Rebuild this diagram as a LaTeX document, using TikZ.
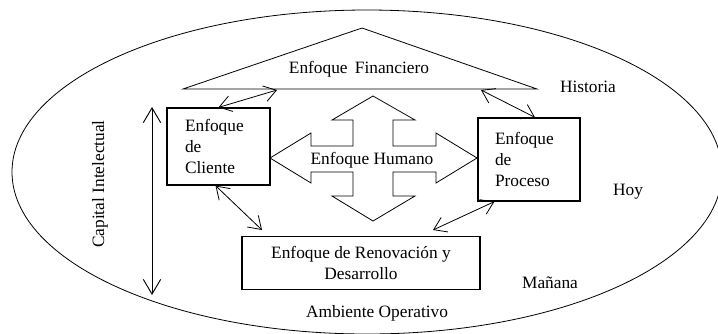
\documentclass[tikz,border=0pt]{standalone}
\usepackage{fontspec}
\setmainfont{Liberation Serif}
\usetikzlibrary{arrows.meta}
\begin{document}
\begin{tikzpicture}[x=0.75pt,y=-0.75pt,
  font=\fontsize{13}{15.5}\selectfont,
  thinline/.style={line width=0.6pt},
  boxnode/.style={draw,line width=0.9pt,inner ysep=0pt},
  lbl/.style={inner sep=0pt},
  arr/.style={line width=0.6pt,{Straight Barb[length=9pt,width=12pt]}-{Straight Barb[length=9pt,width=12pt]}},
  bigarr/.style={line width=0.7pt,{Straight Barb[length=11pt,width=13pt]}-{Straight Barb[length=11pt,width=13pt]}}]
\clip (0,0) rectangle (718,333);
\fill[white] (0,0) rectangle (718,333);
% outer ellipse
\draw[thinline] (367,172) ellipse [x radius=266.25pt, y radius=121.5pt];
% financial triangle
\draw[thinline] (362,28) -- (537,89) -- (183,89) -- cycle;
\node[lbl] (fin) at (359,69) {Enfoque\, Financiero};
\coordinate (fA) at (277,90);
\coordinate (fB) at (481,90);
% human cross
\draw[thinline] (373,96) -- (415,120) -- (393,120) -- (393,146) -- (436,146) -- (436,133)
  -- (477,158) -- (436,183) -- (436,172) -- (393,172) -- (393,196) -- (415,196)
  -- (373,221) -- (332,196) -- (353,196) -- (353,172) -- (311,172) -- (311,183)
  -- (270,158) -- (311,133) -- (311,146) -- (353,146) -- (353,120) -- (332,120) -- cycle;
\node[lbl] (hum) at (372,160) {Enfoque Humano};
% boxes
\node[boxnode,inner xsep=13.5pt,text width=50.25pt,align=left,minimum height=57.75pt]
  (cli) at (218.5,146.5) {Enfoque\\de\\Cliente};
\node[boxnode,inner xsep=12.75pt,text width=51pt,align=left,minimum height=62.25pt]
  (pro) at (529,159.5) {Enfoque\\de\\Proceso};
\node[boxnode,minimum width=178.5pt,minimum height=39.75pt,align=center]
  (ren) at (361,263) {Enfoque de Renovación y\\Desarrollo};
\coordinate (rA) at (262,230);
\coordinate (rB) at (433,230);
% labels
\node[lbl] (his) at (588,87) {Historia};
\node[lbl] (hoy) at (628,192) {Hoy};
\node[lbl] (man) at (550,283) {Mañana};
\node[lbl] (amb) at (377,313) {Ambiente Operativo};
\node[lbl,rotate=90] (cap) at (100,184) {Capital Intelectual};
% arrows
\coordinate (vt) at (152,107);
\coordinate (vb) at (152,295);
\draw[bigarr] (vt) -- (vb);
\draw[arr] (cli.north) -- (fA);
\draw[arr] (fB) -- ([xshift=4.5pt]pro.north);
\draw[arr] ([xshift=-2.25pt]cli.south) -- (rA);
\draw[arr] ([xshift=12.75pt]pro.south west) -- (rB);
\end{tikzpicture}
\end{document}
